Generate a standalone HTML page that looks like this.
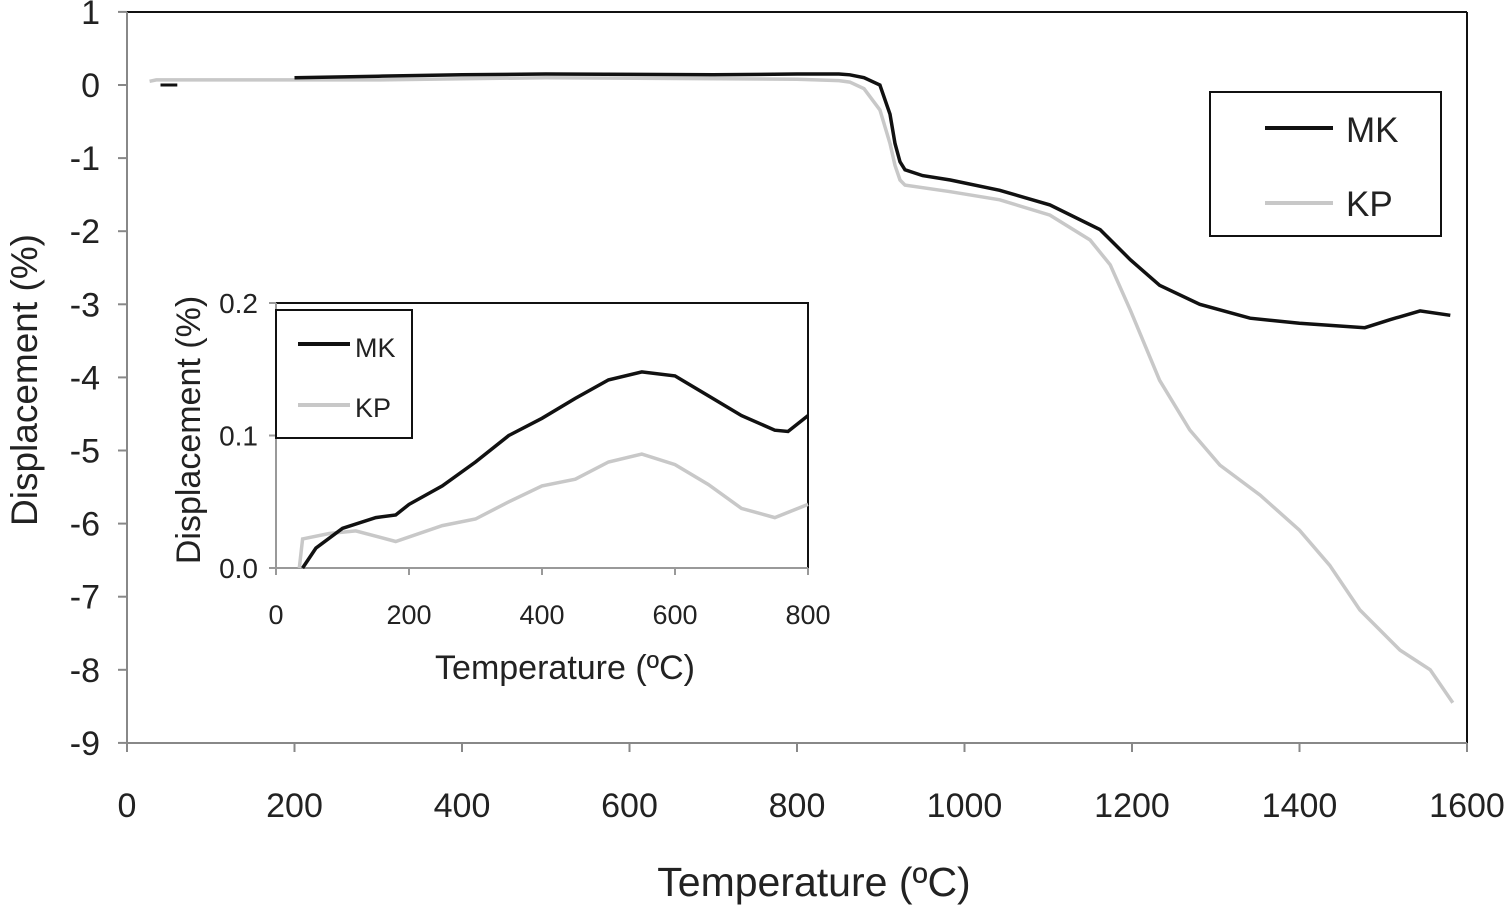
<!DOCTYPE html>
<html><head><meta charset="utf-8"><style>
body{margin:0;background:#fff}
svg{display:block;font-family:"Liberation Sans",sans-serif}
</style></head><body>
<svg id="c" width="1509" height="905" viewBox="0 0 1509 905">
<g id="main"></g>
<g id="inset"></g>
</svg>
<script>
const mainXTicks=[0,200,400,600,800,1000,1200,1400,1600];
const mainYTicks=[1,0,-1,-2,-3,-4,-5,-6,-7,-8,-9];
const mkTemp=[200,300,400,500,700,800,850,863,880,899,911,917,923,929,950,983,1042,1102,1162,1198,1233,1281,1341,1400,1478,1508,1544,1580];
const mkDisp=[0.1,0.12,0.14,0.15,0.14,0.15,0.15,0.14,0.1,0.0,-0.4,-0.8,-1.05,-1.16,-1.24,-1.3,-1.44,-1.64,-1.98,-2.39,-2.74,-3.0,-3.19,-3.26,-3.32,-3.21,-3.09,-3.15];
const mkDashTemp=[40,60];
const mkDashDisp=[0,0];
const kpTemp=[27,35,300,500,800,850,863,880,899,911,917,923,929,983,1042,1102,1150,1174,1198,1233,1269,1305,1353,1400,1436,1472,1520,1556,1583];
const kpDisp=[0.05,0.07,0.07,0.1,0.08,0.06,0.04,-0.05,-0.34,-0.8,-1.1,-1.3,-1.37,-1.46,-1.57,-1.78,-2.12,-2.46,-3.08,-4.04,-4.72,-5.2,-5.61,-6.09,-6.57,-7.18,-7.73,-8.0,-8.45];
const insetXTicks=[0,200,400,600,800];
const insetYTicks=[0.0,0.1,0.2];
const insetYLabels=["0.0","0.1","0.2"];
const inMkTemp=[40,60,100,150,180,200,250,300,350,400,450,500,550,600,650,700,750,770,800];
const inMkDisp=[0.0,0.015,0.03,0.038,0.04,0.048,0.062,0.08,0.1,0.113,0.128,0.142,0.148,0.145,0.13,0.115,0.104,0.103,0.115];
const inKpTemp=[35,40,80,120,180,250,300,350,400,450,500,550,600,650,700,750,800];
const inKpDisp=[0.0,0.022,0.026,0.028,0.02,0.032,0.037,0.05,0.062,0.067,0.08,0.086,0.078,0.063,0.045,0.038,0.048];

const NS="http://www.w3.org/2000/svg";
function mk(parent,tag,attrs,text){const e=document.createElementNS(NS,tag);for(const k in attrs)e.setAttribute(k,attrs[k]);if(text!==undefined)e.textContent=text;parent.appendChild(e);return e;}
const mx=v=>127+(v-0)*(1467-127)/1600;
const my=v=>85-v*73.1;
const ix=v=>276+v*(808-276)/800;
const iy=v=>568-v*(568-303)/0.2;
function pts(xs,ys,fx,fy){return xs.map((t,i)=>fx(t).toFixed(1)+","+fy(ys[i]).toFixed(1)).join(" ");}

const g=document.getElementById('main');
let e;
e=mk(g,'line',{x1:127,y1:12,x2:1467,y2:12,stroke:'#111','stroke-width':2});

e=mk(g,'line',{x1:1467,y1:12,x2:1467,y2:743,stroke:'#111','stroke-width':2});

e=mk(g,'line',{x1:127,y1:12,x2:127,y2:743,stroke:'#888','stroke-width':2});

e=mk(g,'line',{x1:127,y1:743,x2:1467,y2:743,stroke:'#888','stroke-width':2});

mainXTicks.forEach(t=>{
 e=mk(g,'line',{x1:mx(t),y1:743,x2:mx(t),y2:752,stroke:'#888','stroke-width':2});
 
 e=mk(g,'text',{x:mx(t),y:817,'font-size':34,'text-anchor':'middle',fill:'#222'},String(t));
 
});
mainYTicks.forEach(t=>{
 e=mk(g,'line',{x1:118,y1:my(t),x2:127,y2:my(t),stroke:'#888','stroke-width':2});
 
 e=mk(g,'text',{x:100,y:my(t)+12,'font-size':34,'text-anchor':'end',fill:'#222'},String(t));
 
});
e=mk(g,'text',{x:814,y:896,'font-size':41,'text-anchor':'middle',fill:'#222'},'Temperature (ºC)');

e=mk(g,'text',{x:0,y:0,'font-size':37,'text-anchor':'middle',fill:'#222',transform:'translate(37,380) rotate(-90)'},'Displacement (%)');

e=mk(g,'polyline',{points:pts(kpTemp,kpDisp,mx,my),fill:'none',stroke:'#c8c8c8','stroke-width':3.5});

e=mk(g,'polyline',{points:pts(mkTemp,mkDisp,mx,my),fill:'none',stroke:'#111','stroke-width':3.5});

e=mk(g,'polyline',{points:pts(mkDashTemp,mkDashDisp,mx,my),fill:'none',stroke:'#111','stroke-width':3});

e=mk(g,'rect',{x:1210,y:92,width:231,height:144,fill:'#fff',stroke:'#111','stroke-width':2});

e=mk(g,'line',{x1:1265,y1:128,x2:1333,y2:128,stroke:'#111','stroke-width':4});

e=mk(g,'text',{x:1346,y:142,'font-size':35,fill:'#222'},'MK');

e=mk(g,'line',{x1:1265,y1:203,x2:1333,y2:203,stroke:'#c8c8c8','stroke-width':4});

e=mk(g,'text',{x:1346,y:216,'font-size':35,fill:'#222'},'KP');


const h=document.getElementById('inset');
e=mk(h,'rect',{x:276,y:303,width:532,height:265,fill:'#fff',stroke:'none'});

e=mk(h,'polyline',{points:'276,303 808,303 808,568',fill:'none',stroke:'#111','stroke-width':2});

e=mk(h,'polyline',{points:'276,303 276,568 808,568',fill:'none',stroke:'#999','stroke-width':2});

insetXTicks.forEach(t=>{
 e=mk(h,'line',{x1:ix(t),y1:568,x2:ix(t),y2:575,stroke:'#999','stroke-width':2});
 
 e=mk(h,'text',{x:ix(t),y:624,'font-size':27,'text-anchor':'middle',fill:'#222'},String(t));
 
});
insetYTicks.forEach((t,i)=>{
 e=mk(h,'line',{x1:269,y1:iy(t),x2:276,y2:iy(t),stroke:'#999','stroke-width':2});
 
 e=mk(h,'text',{x:258,y:iy(t)+10,'font-size':28,'text-anchor':'end',fill:'#222'},insetYLabels[i]);
 
});
e=mk(h,'text',{x:565,y:679,'font-size':34,'text-anchor':'middle',fill:'#222'},'Temperature (ºC)');

e=mk(h,'text',{x:0,y:0,'font-size':34,'text-anchor':'middle',fill:'#222',transform:'translate(200,430) rotate(-90)'},'Displacement (%)');

e=mk(h,'polyline',{points:pts(inKpTemp,inKpDisp,ix,iy),fill:'none',stroke:'#c8c8c8','stroke-width':3.5});

e=mk(h,'polyline',{points:pts(inMkTemp,inMkDisp,ix,iy),fill:'none',stroke:'#111','stroke-width':3.5});

e=mk(h,'rect',{x:276,y:310,width:136,height:128,fill:'#fff',stroke:'#111','stroke-width':2});

e=mk(h,'line',{x1:298,y1:344,x2:350,y2:344,stroke:'#111','stroke-width':4});

e=mk(h,'text',{x:355,y:357,'font-size':27,fill:'#222'},'MK');

e=mk(h,'line',{x1:298,y1:405,x2:350,y2:405,stroke:'#c8c8c8','stroke-width':4});

e=mk(h,'text',{x:355,y:417,'font-size':27,fill:'#222'},'KP');

</script>
</body></html>
